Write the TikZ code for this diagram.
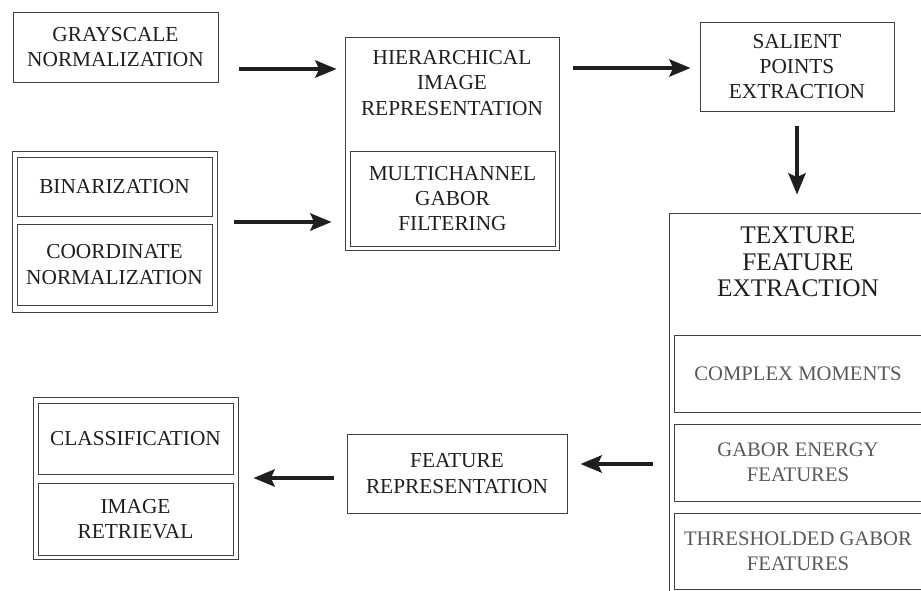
\documentclass[tikz,border=0pt]{standalone}
\usepackage{fontspec}
\setmainfont{Liberation Serif}
\usetikzlibrary{arrows.meta}
\begin{document}
\begin{tikzpicture}[x=0.75pt,y=-0.75pt,
  box/.style={draw=black!75,line width=0.7pt,align=center,inner sep=0pt,
    font=\fontsize{16}{19}\selectfont,text=black!88},
  light/.style={box,text=black!65,font=\fontsize{15.5}{19}\selectfont},
  arr/.style={-{Stealth[length=16pt,width=13pt,inset=3pt]},line width=2.6pt,draw=black!88}]
\useasboundingbox (0,0) rectangle (921,591);
\clip (0,0) rectangle (921,591);
\node[box,minimum width=153.75pt,minimum height=52.5pt] (gray) at (115.5,47) {GRAYSCALE\\NORMALIZATION};
\node[box,minimum width=153.75pt,minimum height=120.75pt] (prep) at (114.5,231.5) {};
\node[box,minimum width=146.25pt,minimum height=44.25pt] (bin) at (114.5,186.5) {BINARIZATION};
\node[box,minimum width=146.25pt,minimum height=60.75pt] (coord) at (114.5,264.5) {COORDINATE\\NORMALIZATION};
\node[box,minimum width=160.5pt,minimum height=159.75pt] (hier) at (452,143.5) {};
\node[box,draw=none] (hiertxt) at (452,83) {HIERARCHICAL\\IMAGE\\REPRESENTATION};
\node[box,minimum width=153.75pt,minimum height=71.25pt] (gabor) at (452.5,198.5) {MULTICHANNEL\\GABOR\\FILTERING};
\node[box,minimum width=145.5pt,minimum height=66.75pt] (sal) at (797,66.5) {SALIENT\\POINTS\\EXTRACTION};
\node[box,minimum width=193.5pt,minimum height=290.25pt] (tex) at (798,406.5) {};
\node[box,draw=none,font=\fontsize{19}{20}\selectfont] (textxt) at (798,262) {TEXTURE\\FEATURE\\EXTRACTION};
\node[light,minimum width=186pt,minimum height=57.75pt] (cm) at (798,373.5) {COMPLEX MOMENTS};
\node[light,minimum width=186pt,minimum height=57.75pt] (ge) at (798,462.5) {GABOR ENERGY\\FEATURES};
\node[light,minimum width=186pt,minimum height=57pt] (tg) at (798,551) {THRESHOLDED GABOR\\FEATURES};
\node[box,minimum width=165pt,minimum height=59.25pt] (feat) at (457,473.5) {FEATURE\\REPRESENTATION};
\node[box,minimum width=153.75pt,minimum height=121.5pt] (out) at (135.5,478) {};
\node[box,minimum width=146.25pt,minimum height=53.25pt] (cls) at (135.5,438.5) {CLASSIFICATION};
\node[box,minimum width=146.25pt,minimum height=54pt] (ret) at (135.5,519) {IMAGE\\RETRIEVAL};
\draw[arr,shorten <=15.75pt,shorten >=6pt] (gray.east |- 0,69) -- (hier.west |- 0,69);
\draw[arr,shorten <=12.75pt,shorten >=9.75pt] (prep.east |- 0,222) -- (hier.west |- 0,222);
\draw[arr,shorten <=10.5pt,shorten >=6.75pt] (hier.east |- 0,68) -- (sal.west |- 0,68);
\draw[arr,shorten <=11.25pt,shorten >=13.5pt] (sal.south) -- (sal.south |- tex.north);
\draw[arr,shorten <=12pt,shorten >=9.75pt] (tex.west |- 0,464) -- (feat.east |- 0,464);
\draw[arr,shorten <=9.75pt,shorten >=11.25pt] (feat.west |- 0,478) -- (out.east |- 0,478);
\end{tikzpicture}
\end{document}
